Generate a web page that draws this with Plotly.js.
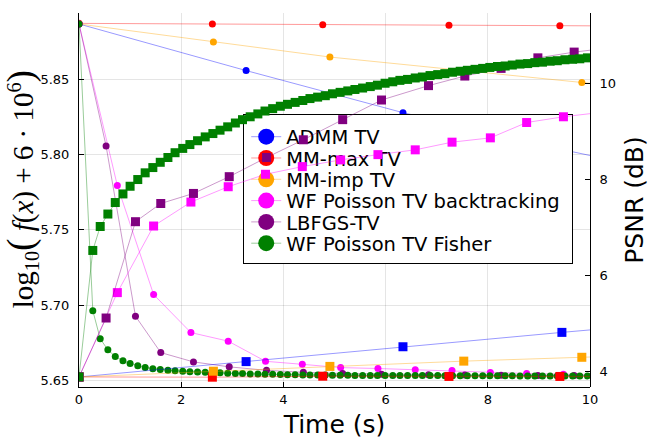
<!DOCTYPE html>
<html><head><meta charset="utf-8">
<script src="https://cdn.plot.ly/plotly-3.0.1.min.js"></script>
<style>
html,body{margin:0;padding:0;background:#fff}
#wrap{position:relative;width:664px;height:443px}
#obj,#psnr{position:absolute;left:0;top:0;width:664px;height:443px}
</style>
</head><body>
<div id="wrap"><div id="obj"></div><div id="psnr"></div></div>
<script>
// ---------- data ----------
const seriesNames = ["ADMM TV","MM-max TV","MM-imp TV","WF Poisson TV backtracking","LBFGS-TV","WF Poisson TV Fisher"];
const markerColors = ["#0000ff","#ff0000","#ffa500","#ff00ff","#800080","#008000"];
const lineColors = ["rgba(0,0,255,0.4)","rgba(255,0,0,0.4)","rgba(255,165,0,0.4)","rgba(255,0,255,0.4)","rgba(128,0,128,0.4)","rgba(0,128,0,0.4)"];

const admmTime = [0, 3.27, 6.34, 9.45, 12.55];
const admmObj  = [5.887, 5.856, 5.828, 5.8035, 5.781];
const admmPsnr = [3.88, 4.20, 4.51, 4.81, 5.10];

const mmmaxTime = [0, 2.61, 4.77, 7.24, 9.41, 11.6];
const mmmaxObj  = [5.8874, 5.8870, 5.8865, 5.8862, 5.8858, 5.8855];
const mmmaxPsnr = [3.88, 3.875, 3.895, 3.89, 3.89, 3.89];

const mmimpTime = [0, 2.63, 4.91, 7.53, 9.84, 12.2];
const mmimpObj  = [5.887, 5.875, 5.865, 5.856, 5.848, 5.840];
const mmimpPsnr = [3.88, 4.00, 4.10, 4.21, 4.29, 4.37];

const wfbtTime = [0, 0.75, 1.46, 2.19, 2.92, 3.65, 4.37, 5.12, 5.85, 6.58, 7.30, 8.05, 8.76, 9.48, 10.2];
const wfbtObj  = [5.887, 5.7795, 5.707, 5.6817, 5.676, 5.6626, 5.6606, 5.6584, 5.6578, 5.6569, 5.6565, 5.6551, 5.6545, 5.654, 5.6537];
const wfbtPsnr = [3.88, 5.64, 7.03, 7.53, 7.85, 8.11, 8.27, 8.41, 8.52, 8.62, 8.78, 8.87, 9.19, 9.31, 9.40];

const lbfgsTime = [0, 0.53, 1.105, 1.60, 2.24, 2.94, 3.67, 4.39, 5.16, 5.92, 6.84, 7.55, 8.26, 8.98, 9.69, 10.4];
const lbfgsObj  = [5.887, 5.8058, 5.6926, 5.6684, 5.6622, 5.6589, 5.6566, 5.6553, 5.6545, 5.6540, 5.6536, 5.6534, 5.6533, 5.6532, 5.6531, 5.6530];
const lbfgsPsnr = [3.88, 5.11, 7.12, 7.50, 7.71, 8.06, 8.46, 8.83, 9.25, 9.66, 9.96, 10.16, 10.32, 10.54, 10.66, 10.75];

const wffTime = [0, 0.27, 0.415, 0.565, 0.71, 0.86, 1.00, 1.15, 1.295, 1.445, 1.59, 1.74, 1.88, 2.03, 2.17, 2.32, 2.47, 2.62, 2.76, 2.91, 3.06, 3.20, 3.35, 3.50, 3.64, 3.79, 3.94, 4.08, 4.23, 4.38, 4.52, 4.67, 4.82, 4.96, 5.11, 5.26, 5.40, 5.55, 5.70, 5.84, 5.99, 6.14, 6.28, 6.43, 6.58, 6.72, 6.87, 7.02, 7.16, 7.31, 7.46, 7.60, 7.75, 7.90, 8.04, 8.19, 8.34, 8.48, 8.63, 8.78, 8.92, 9.07, 9.22, 9.36, 9.51, 9.66, 9.80, 9.95, 10.10];
const wffObj  = [5.887, 5.6963, 5.6776, 5.6702, 5.6658, 5.6630, 5.6612, 5.6596, 5.6585, 5.6577, 5.6571, 5.6567, 5.6563, 5.6560, 5.6557, 5.6555, 5.6553, 5.6551, 5.6549, 5.6547, 5.6545, 5.6544, 5.6542, 5.6541, 5.6540, 5.6539, 5.6538, 5.6537, 5.6536, 5.6535, 5.6535, 5.6534, 5.6534, 5.6533, 5.6533, 5.6533, 5.6532, 5.6532, 5.6532, 5.6532, 5.6531, 5.6531, 5.6531, 5.6531, 5.6531, 5.6531, 5.6531, 5.6531, 5.6530, 5.6530, 5.6530, 5.6530, 5.6530, 5.6530, 5.6530, 5.6530, 5.6530, 5.6530, 5.6529, 5.6529, 5.6529, 5.6529, 5.6529, 5.6529, 5.6529, 5.6529, 5.6529, 5.6529, 5.6529];
const wffPsnr = [3.88, 6.52, 7.02, 7.28, 7.52, 7.70, 7.86, 8.00, 8.14, 8.25, 8.36, 8.46, 8.56, 8.65, 8.73, 8.81, 8.89, 8.96, 9.03, 9.10, 9.18, 9.25, 9.31, 9.37, 9.43, 9.48, 9.53, 9.57, 9.61, 9.65, 9.69, 9.72, 9.75, 9.79, 9.82, 9.85, 9.88, 9.91, 9.94, 9.97, 10.01, 10.04, 10.07, 10.09, 10.12, 10.14, 10.17, 10.19, 10.21, 10.24, 10.26, 10.28, 10.30, 10.32, 10.34, 10.36, 10.37, 10.39, 10.41, 10.42, 10.44, 10.45, 10.47, 10.48, 10.50, 10.51, 10.52, 10.54, 10.55];

const xTicks = [0, 2, 4, 6, 8, 10];
const objTicks = [5.65, 5.70, 5.75, 5.80, 5.85];
const psnrTicks = [4, 6, 8, 10];

// ---------- build ----------
const times = [admmTime, mmmaxTime, mmimpTime, wfbtTime, lbfgsTime, wffTime];
const objs = [admmObj, mmmaxObj, mmimpObj, wfbtObj, lbfgsObj, wffObj];
const psnrs = [admmPsnr, mmmaxPsnr, mmimpPsnr, wfbtPsnr, lbfgsPsnr, wffPsnr];

const tickFont = {family: "DejaVu Sans", size: 13, color: "#000"};
const margin = {l: 79, r: 74, t: 13, b: 56, pad: 0};

const objTraces = [];
for (let i = 0; i < 6; i++) {
  objTraces.push({
    x: times[i], y: objs[i], type: "scatter", mode: "lines+markers",
    name: seriesNames[i], showlegend: false, hoverinfo: "skip",
    line: {color: lineColors[i], width: 1},
    marker: {color: markerColors[i], size: 7, symbol: "circle", line: {width: 0}}
  });
}
for (let i = 0; i < 6; i++) {
  objTraces.push({
    x: [null], y: [null], type: "scatter", mode: "lines+markers",
    name: seriesNames[i], showlegend: true, hoverinfo: "skip",
    line: {color: lineColors[i], width: 1},
    marker: {color: markerColors[i], size: 16, symbol: "circle", line: {width: 0}}
  });
}

const bigParen = s => '<span style="font-size:37px">' + s + '</span>';

const layout1 = {
  width: 664, height: 443, margin: margin,
  paper_bgcolor: "#fff", plot_bgcolor: "#fff",
  showlegend: true,
  legend: {
    x: 0.3204, y: 0.7291, xanchor: "left", yanchor: "top",
    bgcolor: "#fff", bordercolor: "#000", borderwidth: 1,
    font: {family: "DejaVu Sans", size: 19.5, color: "#000"},
    tracegroupgap: 0, itemclick: false
  },
  xaxis: {
    range: [0, 10], tickvals: xTicks, ticktext: xTicks.map(String),
    showgrid: true, gridcolor: "rgba(0,0,0,0.1)", gridwidth: 1,
    zeroline: false, showline: true, linecolor: "#000", linewidth: 1,
    ticks: "inside", ticklen: 5, tickcolor: "#000", tickwidth: 1,
    tickfont: tickFont,
    title: {text: "Time (s)", font: {family: "DejaVu Sans", size: 25, color: "#000"}, standoff: 9}
  },
  yaxis: {
    range: [5.6455, 5.8943], tickvals: objTicks, ticktext: objTicks.map(v => v.toFixed(2)),
    showgrid: true, gridcolor: "rgba(0,0,0,0.1)", gridwidth: 1,
    zeroline: false, showline: true, linecolor: "#000", linewidth: 1,
    ticks: "inside", ticklen: 5, tickcolor: "#000", tickwidth: 1,
    tickfont: tickFont, ticklabelstandoff: 6,
    title: {text: "\u200b\u00a0\u00a0\u00a0log<sub>10</sub>" + bigParen("(") + " <i>f</i>(<i>x</i>) + 6 · 10<sup>6</sup>" + bigParen(")"),
            font: {family: "Liberation Serif", size: 29, color: "#000"}, standoff: 4}
  }
};

const psnrTraces = [];
for (let i = 0; i < 6; i++) {
  psnrTraces.push({
    x: times[i], y: psnrs[i], type: "scatter", mode: "lines+markers",
    name: seriesNames[i] + " PSNR", showlegend: false, hoverinfo: "skip",
    line: {color: lineColors[i], width: 1},
    marker: {color: markerColors[i], size: 9, symbol: "square", line: {width: 0}}
  });
}

const layout2 = {
  width: 664, height: 443, margin: margin,
  paper_bgcolor: "rgba(0,0,0,0)", plot_bgcolor: "rgba(0,0,0,0)",
  showlegend: false,
  xaxis: {range: [0, 10], showgrid: false, zeroline: false, showline: false,
          showticklabels: false, ticks: ""},
  yaxis: {
    side: "right", range: [3.670, 11.476], tickvals: psnrTicks, ticktext: psnrTicks.map(String),
    showgrid: false, zeroline: false, showline: true, linecolor: "#000", linewidth: 1,
    ticks: "inside", ticklen: 5, tickcolor: "#000", tickwidth: 1,
    tickfont: tickFont, ticklabelstandoff: 6,
    title: {text: "PSNR (dB)", font: {family: "DejaVu Sans", size: 25, color: "#000"}, standoff: 10}
  }
};

const config = {staticPlot: true, displayModeBar: false};

// compact the legend rows to the reference spacing
function compactLegend(gd) {
  const leg = gd.querySelector(".legend");
  if (!leg) return;
  const rows = leg.querySelectorAll(".traces");
  if (!rows.length) return;
  const m0 = /translate\(\s*([-\d.]+)[ ,]+([-\d.]+)\s*\)/.exec(rows[0].getAttribute("transform") || "");
  if (!m0) return;
  const y0 = parseFloat(m0[2]) + 2.2;
  rows.forEach((r, i) => {
    const m = /translate\(\s*([-\d.]+)[ ,]+([-\d.]+)\s*\)/.exec(r.getAttribute("transform") || "");
    const x = m ? parseFloat(m[1]) : 0;
    r.setAttribute("transform", "translate(" + (x + 2.5) + "," + (y0 + i * 21.3) + ")");
  });
  const bg = leg.querySelector("rect.bg");
  if (bg) { bg.setAttribute("height", 148.5); bg.setAttribute("width", 329); }
}

Plotly.newPlot("obj", objTraces, layout1, config).then(compactLegend);
Plotly.newPlot("psnr", psnrTraces, layout2, config);
</script>
</body></html>
